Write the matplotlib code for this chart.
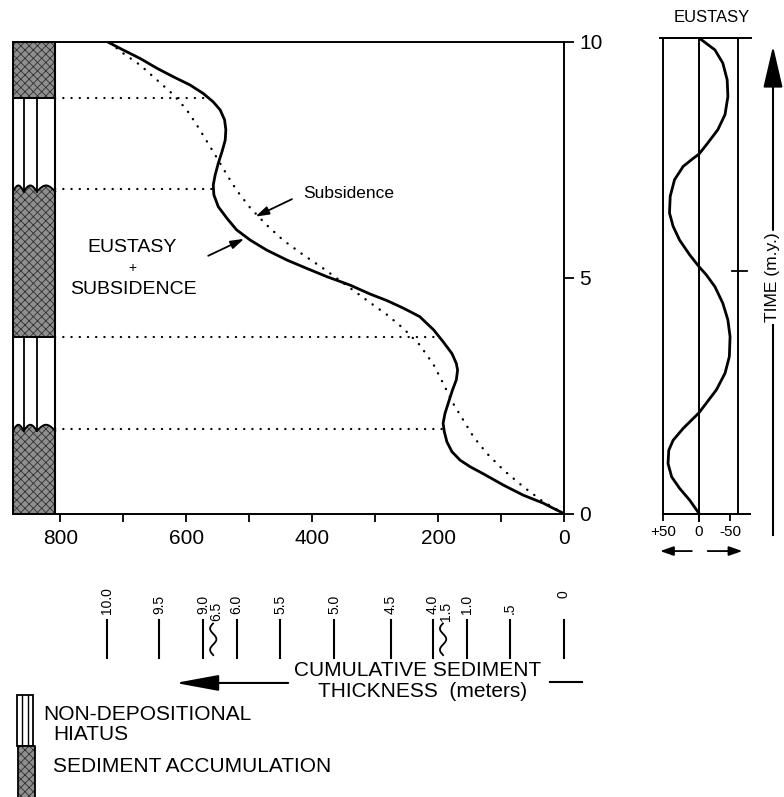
import numpy as np
import matplotlib
matplotlib.use("Agg")
import matplotlib.pyplot as plt
from matplotlib.patches import Rectangle

plt.rcParams['font.family'] = ['Liberation Sans', 'DejaVu Sans']
plt.rcParams['hatch.linewidth'] = 0.6

# ---- data ----
# eustasy + subsidence curve (time m.y., cumulative thickness m)
solid_t = [0.0, 0.09, 0.22, 0.39, 0.60, 0.84, 0.99, 1.13, 1.31, 1.52, 1.73, 1.91, 2.12, 2.33,
           2.62, 2.83, 3.04, 3.18, 3.39, 3.64, 3.89, 4.17, 4.35, 4.51, 4.65, 4.84, 5.02, 5.19,
           5.37, 5.58, 5.79, 6.01, 6.25, 6.50, 6.75, 6.96, 7.17, 7.42, 7.67, 7.91, 8.13, 8.34,
           8.55, 8.72, 8.90, 9.08, 9.25, 9.43, 9.64, 9.82, 10.0]
solid_thick = [0, 14, 33, 65, 96, 128, 149, 165, 178, 186, 190, 192, 189, 184,
               177, 171, 169, 171, 178, 192, 207, 229, 255, 281, 308, 340, 377, 408,
               440, 472, 498, 520, 535, 549, 556, 557, 554, 549, 543, 538, 537, 539,
               546, 557, 573, 594, 620, 646, 673, 700, 726]
# subsidence only (dotted)
subs_t = [0.0, 0.25, 0.57, 0.92, 1.28, 1.63, 1.98, 2.33, 2.76, 3.15, 3.57, 3.92, 4.21, 4.42,
          4.80, 5.19, 5.48, 5.79, 6.11, 6.47, 6.85, 7.17, 7.53, 7.88, 8.23, 8.55, 8.87, 9.18,
          9.50, 9.75, 10.0]
subs_thick = [0, 33, 65, 96, 123, 144, 160, 176, 192, 207, 229, 255, 281, 303,
              342, 382, 414, 446, 472, 498, 520, 535, 551, 567, 583, 599, 620, 646,
              673, 700, 724]
# eustasy panel (time m.y., sea level m)
eus_t = [0.0, 0.28, 0.53, 0.77, 1.05, 1.33, 1.54, 1.79, 2.0, 2.12, 2.32, 2.6, 2.95, 3.3, 3.72,
         4.07, 4.42, 4.77, 5.02, 5.19, 5.44, 5.75, 6.04, 6.32, 6.67, 7.02, 7.3, 7.47, 7.56,
         7.79, 8.07, 8.39, 8.77, 9.12, 9.47, 9.75, 10.0]
eus_val = [0, 13, 27, 38, 43, 42, 36, 22, 8, 0, -10, -24, -36, -42, -43,
           -40, -33, -22, -10, 0, 13, 27, 36, 41, 40, 34, 22, 8, 0,
           -12, -26, -36, -40, -39, -33, -22, 0]

sed_intervals = [(0.0, 1.8), (3.75, 6.87), (8.8, 10.0)]
hiatus_intervals = [(1.8, 3.75), (6.87, 8.8)]
bound_t = [1.8, 3.75, 6.87, 8.8]
bound_thick = [191, 200, 557, 565]

scale_labels = ['10.0', '9.5', '9.0', '6.5', '6.0', '5.5', '5.0', '4.5', '4.0', '1.5', '1.0', '.5', '0']
scale_thick = [726, 643, 573, 557, 520, 451, 365, 275, 208, 192, 154, 86, 0]
scale_wavy = ['6.5', '1.5']

W, H = 784, 797
fig = plt.figure(figsize=(W / 100, H / 100), dpi=100)


def fx(px):
    return px / W


def fy(py):
    return 1 - py / H


# overlay in pixel coords for legend / time arrow
ov = fig.add_axes([0, 0, 1, 1])
ov.set_xlim(0, W)
ov.set_ylim(H, 0)
ov.axis('off')

stip = dict(facecolor='#8f8f8f', hatch='xxxx', edgecolor='#303030')

#==================== main panel ====================#
ax = fig.add_axes([fx(13), fy(513.5), (564 - 13) / W, (513.5 - 41.5) / H])
ax.set_xlim(875, 0)
ax.set_ylim(0, 10)
for s in ax.spines.values():
    s.set_linewidth(1.4)

dot = (0, (0.1, 3.6))
ax.plot(solid_thick, solid_t, color='k', lw=2.0, zorder=4, solid_joinstyle='round')
ax.plot(subs_thick, subs_t, color='k', lw=1.7, ls=dot, dash_capstyle='round', zorder=3)
for t, th in zip(bound_t, bound_thick):
    ax.plot([808, th], [t, t], color='k', lw=1.6, ls=dot, dash_capstyle='round')

# stratigraphic column
cx0, cx1 = 875, 808
strips = [875, 858, 837, 808]


def wave(xs, t):
    y = np.full_like(xs, t, dtype=float)
    for a, b in zip(strips[:-1], strips[1:]):
        m = (xs <= a) & (xs >= b)
        y[m] = t - 0.05 + 0.13 * np.sin(np.pi * (xs[m] - a) / (b - a))
    return y


xs = np.linspace(cx1, cx0, 300)
for a, b in sed_intervals:
    top = wave(xs, b) if b < 10 else np.full_like(xs, b)
    ax.fill_between(xs, a, top, lw=0, zorder=2, **stip)
    ax.plot(xs, top, color='k', lw=1.4, zorder=3)
    ax.plot([cx1, cx0], [a, a], color='k', lw=1.4, zorder=3)
for a, b in hiatus_intervals:
    for sx in strips[1:-1]:
        ax.plot([sx, sx], [a - 0.05, b], color='k', lw=1.3, zorder=3)
ax.add_patch(Rectangle((cx1, 0), cx0 - cx1, 10, fill=False, lw=1.5, zorder=3))

ax.set_xticks(range(0, 801, 200))
ax.set_xticks(range(100, 800, 200), minor=True)
ax.tick_params(axis='x', which='both', direction='out', length=6, width=1.3, labelsize=15, pad=5)
ax.yaxis.tick_right()
ax.set_yticks([0, 5, 10])
ax.tick_params(axis='y', direction='out', length=7, width=1.3, labelsize=15, pad=4)

ax.text(414, 6.77, 'Subsidence', ha='left', va='center', fontsize=12.5)
ax.annotate('', xy=(490, 6.29), xytext=(432, 6.66),
            arrowprops=dict(arrowstyle='-|>,head_length=0.8,head_width=0.25', mutation_scale=10,
                            lw=1.3, color='k', shrinkA=0, shrinkB=0))
ax.text(686, 5.63, 'EUSTASY', ha='center', va='center', fontsize=14)
ax.text(685, 5.2, '+', ha='center', va='center', fontsize=10)
ax.text(684, 4.74, 'SUBSIDENCE', ha='center', va='center', fontsize=14)
ax.annotate('', xy=(508, 5.82), xytext=(565, 5.46),
            arrowprops=dict(arrowstyle='-|>,head_length=0.8,head_width=0.25', mutation_scale=10,
                            lw=1.3, color='k', shrinkA=0, shrinkB=0))

# cumulative thickness scale below
for lab, th in zip(scale_labels, scale_thick):
    if lab in scale_wavy:
        yy = np.linspace(-3.0, -2.33, 60)
        ax.plot(th + 5 * np.sin(2 * np.pi * (yy + 3.0) / 0.45), yy, color='k', lw=1.3, clip_on=False)
        ax.text(th - 5, -2.28, lab, rotation=90, ha='center', va='bottom', fontsize=10, clip_on=False)
    else:
        ax.plot([th, th], [-2.26, -3.06], color='k', lw=1.5, clip_on=False)
        ly = -1.78 if lab == '0' else -2.12
        ax.text(th, ly, lab, rotation=90, ha='center', va='bottom', fontsize=10, clip_on=False)

ax.text(232, -3.32, 'CUMULATIVE SEDIMENT', ha='center', va='center', fontsize=15)
ax.text(224, -3.78, 'THICKNESS  (meters)', ha='center', va='center', fontsize=15)
ax.annotate('', xy=(617, -3.59), xytext=(438, -3.59), annotation_clip=False,
            arrowprops=dict(arrowstyle='-|>,head_length=1.9,head_width=0.35', mutation_scale=14,
                            lw=1.5, color='k', shrinkA=0, shrinkB=0))
ax.plot([22, -28], [-3.57, -3.57], color='k', lw=1.5, clip_on=False)

#==================== eustasy panel ====================#
ex = fig.add_axes([fx(663), fy(513.5), (738 - 663) / W, (513.5 - 38) / H])
ex.set_xlim(50, -54)
ex.set_ylim(0, 10)
for s in ex.spines.values():
    s.set_linewidth(1.4)
ex.plot(eus_val, eus_t, color='k', lw=2.0, solid_joinstyle='round')
ex.plot([0, 0], [-0.15, 10], color='k', lw=1.4, clip_on=False)
ex.plot([54, -72], [10, 10], color='k', lw=1.4, clip_on=False)
ex.plot([50, -70], [0, 0], color='k', lw=1.4, clip_on=False)
ex.plot([-46, -66], [5.1, 5.1], color='k', lw=1.3, clip_on=False)
ex.set_yticks([])
ex.set_xticks([50, 0, -43])
ex.set_xticklabels(['+50', '0', '-50'])
ex.tick_params(axis='x', direction='out', length=5, width=1.3, labelsize=11, pad=3)
for x0, x1 in [(10, 54), (-12, -60)]:
    ex.annotate('', xy=(x1, -0.79), xytext=(x0, -0.79), annotation_clip=False,
                arrowprops=dict(arrowstyle='-|>,head_length=0.8,head_width=0.28', mutation_scale=10,
                                lw=1.3, color='k', shrinkA=0, shrinkB=0))

fig.text(fx(712), fy(18), 'EUSTASY', ha='center', va='center', fontsize=12)
fig.text(fx(773), fy(277), 'TIME (m.y.)', rotation=90, ha='center', va='center', fontsize=12.5)
ov.annotate('', xy=(773, 46), xytext=(773, 230),
            arrowprops=dict(arrowstyle='-|>,head_length=1.85,head_width=0.43', mutation_scale=14,
                            lw=1.5, color='k', shrinkA=0, shrinkB=0))
ov.plot([773, 773], [325, 535], color='k', lw=1.5)

#==================== legend ====================#
ov.add_patch(Rectangle((17, 695), 16, 51, fill=False, lw=1.3))
for sx in [22, 28]:
    ov.plot([sx, sx], [695, 746], color='k', lw=1.0)
ov.add_patch(Rectangle((18, 746), 17, 51, lw=0, **stip))
ov.plot([18, 18, 35, 35], [797, 746, 746, 797], color='k', lw=1.3)
ov.text(43, 715, 'NON-DEPOSITIONAL', ha='left', va='center', fontsize=15)
ov.text(53, 735, 'HIATUS', ha='left', va='center', fontsize=15)
ov.text(53, 767, 'SEDIMENT ACCUMULATION', ha='left', va='center', fontsize=15)

fig.savefig('out.png', dpi=100)
